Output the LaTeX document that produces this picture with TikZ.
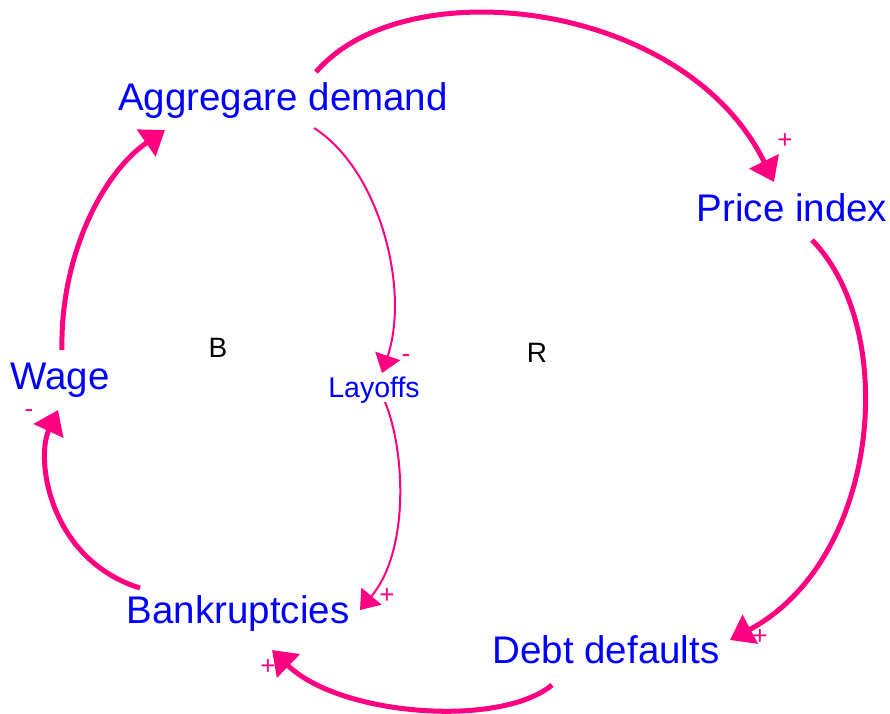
\documentclass[tikz,border=0pt]{standalone}
\usepackage{fontspec}
\setmainfont{Liberation Sans}
\usetikzlibrary{arrows.meta,calc}
\definecolor{linkpink}{RGB}{255,0,128}
\definecolor{varblue}{RGB}{0,0,255}
\begin{document}
\begin{tikzpicture}[x=1pt,y=-1pt,
  var/.style={text=varblue, inner sep=0pt, font=\fontsize{38.5}{44}\selectfont, text height=27.6pt, text depth=0pt},
  smallvar/.style={text=varblue, inner sep=0pt, font=\fontsize{28.5}{33}\selectfont, text height=20.4pt, text depth=0pt},
  loopmark/.style={text=black, inner sep=0pt, font=\fontsize{28}{32}\selectfont, text height=20pt, text depth=0pt},
  pol/.style={text=linkpink, inner sep=0pt, font=\fontsize{26}{30}\selectfont, text height=15pt, text depth=0pt},
  link/.style={draw=linkpink, line width=5pt, -{Triangle[length=23pt,width=32pt]}},
  thinlink/.style={draw=linkpink, line width=2pt, -{Triangle[length=18pt,width=26pt]}},
]
\useasboundingbox (0,0) rectangle (890,713);

% variables
\node[var] (agg)   at (283,97)  {Aggregare demand};
\node[var] (price) at (792,208) {Price index};
\node[var] (wage)  at (60,376)  {Wage};
\node[smallvar] (lay) at (374,387) {Layoffs};
\node[var] (bank)  at (238,610) {Bankruptcies};
\node[var] (debt)  at (606,650) {Debt defaults};

% loop identifiers
\node[loopmark] (loopB) at (218,347) {B};
\node[loopmark] (loopR) at (537,352) {R};

% causal links
\draw[link] ($(agg)+(33,-25)$) .. controls (405,-32) and (685,0) .. ($(price)+(-18,-26)$);
\draw[link] ($(price)+(20,32)$) .. controls (900,330) and (880,560) .. ($(debt)+(124,-10)$);
\draw[link] ($(debt)+(-54,35)$) .. controls (500,728) and (340,716) .. ($(bank)+(34,40)$);
\draw[link] ($(bank)+(-98,-22)$) .. controls (50,560) and (35,460) .. ($(wage)+(-2,34)$);
\draw[link] ($(wage)+(2,-26)$) .. controls (60,260) and (100,175) .. ($(agg)+(-118,33)$);
\draw[thinlink] ($(agg)+(31,31)$) .. controls (380,170) and (410,290) .. ($(lay)+(8,-14)$);
\draw[thinlink] ($(lay)+(11,15)$) .. controls (405,450) and (410,550) .. ($(bank)+(122,0)$);

% link polarities
\node[pol] (p1) at (785,141) {+};
\node[pol] (p2) at (760,637) {+};
\node[pol] (p3) at (268,667) {+};
\node[pol] (p4) at (29,410)  {-};
\node[pol] (p5) at (406,355) {-};
\node[pol] (p6) at (387,596) {+};
\end{tikzpicture}
\end{document}
